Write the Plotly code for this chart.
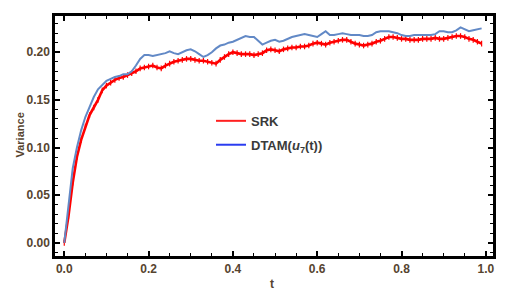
import plotly.graph_objects as go

t = [i / 100 for i in range(100)]

srk = [0.000, 0.028, 0.063, 0.090, 0.108, 0.122, 0.134, 0.142, 0.150, 0.160,
       0.165, 0.168, 0.171, 0.173, 0.174, 0.176, 0.178, 0.180, 0.183, 0.184,
       0.185, 0.186, 0.184, 0.183, 0.186, 0.188, 0.190, 0.191, 0.192, 0.193,
       0.193, 0.192, 0.191, 0.191, 0.190, 0.189, 0.188, 0.192, 0.195, 0.198,
       0.200, 0.199, 0.198, 0.198, 0.198, 0.197, 0.198, 0.199, 0.202, 0.203,
       0.202, 0.201, 0.203, 0.204, 0.205, 0.205, 0.206, 0.206, 0.207, 0.209,
       0.210, 0.209, 0.208, 0.210, 0.211, 0.212, 0.213, 0.213, 0.211, 0.209,
       0.208, 0.207, 0.208, 0.209, 0.211, 0.212, 0.214, 0.216, 0.216, 0.215,
       0.214, 0.214, 0.213, 0.213, 0.213, 0.214, 0.214, 0.214, 0.215, 0.214,
       0.214, 0.215, 0.216, 0.217, 0.217, 0.216, 0.214, 0.213, 0.211, 0.209]

dtam = [0.000, 0.042, 0.078, 0.100, 0.118, 0.132, 0.143, 0.153, 0.161, 0.166,
        0.170, 0.172, 0.174, 0.175, 0.177, 0.177, 0.180, 0.186, 0.193, 0.197,
        0.197, 0.196, 0.197, 0.198, 0.199, 0.201, 0.199, 0.198, 0.200, 0.202,
        0.203, 0.201, 0.198, 0.195, 0.197, 0.200, 0.204, 0.207, 0.208, 0.210,
        0.211, 0.213, 0.215, 0.217, 0.216, 0.216, 0.212, 0.208, 0.210, 0.212,
        0.213, 0.211, 0.212, 0.214, 0.216, 0.217, 0.218, 0.219, 0.218, 0.217,
        0.216, 0.219, 0.222, 0.218, 0.218, 0.219, 0.220, 0.219, 0.218, 0.218,
        0.218, 0.217, 0.217, 0.218, 0.221, 0.222, 0.222, 0.222, 0.221, 0.220,
        0.218, 0.217, 0.217, 0.218, 0.218, 0.218, 0.218, 0.218, 0.219, 0.222,
        0.222, 0.221, 0.221, 0.223, 0.226, 0.224, 0.222, 0.223, 0.224, 0.225]

x_ticks = [0.0, 0.2, 0.4, 0.6, 0.8, 1.0]
x_labels = ["0.0", "0.2", "0.4", "0.6", "0.8", "1.0"]
y_ticks = [0.00, 0.05, 0.10, 0.15, 0.20]
y_labels = ["0.00", "0.05", "0.10", "0.15", "0.20"]

label_color = "#56442f"
fig = go.Figure()

fig.add_trace(go.Scatter(x=t, y=srk, mode="lines+markers", showlegend=False,
                         line=dict(color="#ff0000", width=2.6),
                         marker=dict(symbol="line-ns", size=4,
                                     line=dict(color="#ff0000", width=1.2))))
fig.add_trace(go.Scatter(x=t, y=dtam, mode="lines", showlegend=False,
                         line=dict(color="#6289c6", width=2)))

fig.add_trace(go.Scatter(x=[None], y=[None], mode="lines", name="<b>SRK</b>",
                         legendgroup="a", line=dict(color="#ff2020", width=2)))
fig.add_trace(go.Scatter(x=[None], y=[None], mode="lines",
                         name="<b>DTAM(<i>u</i><sub>7</sub>(t))</b>",
                         legendgroup="b", line=dict(color="#2a3cf0", width=2)))

axis_common = dict(showline=True, linecolor="black", linewidth=2.5, mirror="allticks",
                   ticks="inside", ticklen=5, tickwidth=1.5, tickcolor="black",
                   showgrid=False, zeroline=False,
                   tickfont=dict(family="Liberation Sans, Arial", size=12,
                                 color=label_color, weight="bold"))

fig.update_xaxes(range=[-0.022, 1.017], tickvals=x_ticks, ticktext=x_labels,
                 minor=dict(ticks="inside", dtick=0.05, tick0=0, ticklen=3,
                            tickcolor="black", tickwidth=1),
                 **axis_common)
fig.update_yaxes(range=[-0.0138, 0.238], tickvals=y_ticks, ticktext=y_labels,
                 minor=dict(ticks="inside", dtick=0.01, tick0=0, ticklen=3,
                            tickcolor="black", tickwidth=1),
                 **axis_common)

fig.add_annotation(text="<b>t</b>", xref="paper", yref="paper", x=(272 - 55) / 438,
                   y=(256 - 275) / 243, yanchor="top", showarrow=False,
                   font=dict(family="Liberation Sans, Arial", size=12, color=label_color))
fig.add_annotation(text="<b>Variance</b>", xref="paper", yref="paper",
                   x=(12 - 55) / 438, y=(256 - 134) / 243, textangle=-90, showarrow=False,
                   font=dict(family="Liberation Sans, Arial", size=11, color=label_color))

fig.update_layout(
    width=511, height=284,
    margin=dict(l=47, r=26, t=5, b=36),
    paper_bgcolor="white", plot_bgcolor="white",
    showlegend=True,
    legend=dict(x=(211 - 55) / 438, y=(256 - 104) / 243, xanchor="left", yanchor="top",
                bgcolor="rgba(0,0,0,0)", tracegroupgap=4,
                font=dict(family="Liberation Sans, Arial", size=13, color="#3a3a3a")),
)

fig.write_html("out.html")
